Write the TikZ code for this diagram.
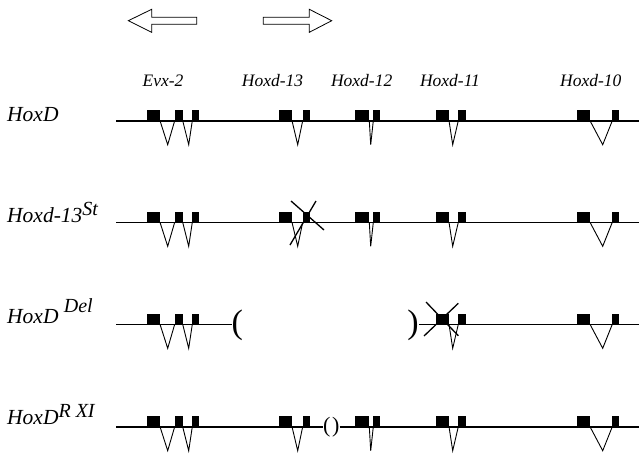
\documentclass[tikz,border=0pt]{standalone}
\usepackage{fontspec}
\setmainfont{Liberation Serif}
\usepackage{tikz}
\usetikzlibrary{positioning}

\tikzset{
    chrom/.style={line width=1.6pt},
    intron/.style={line width=0.9pt},
    exon/.style={fill=black},
    cross/.style={line width=1.3pt},
    genelabel/.style={font=\fontsize{17.5}{17.5}\selectfont\itshape,anchor=base,inner sep=0pt},
    rowlabel/.style={font=\fontsize{21.5}{21.5}\selectfont\itshape,anchor=base west,inner sep=0pt},
    brk/.style={inner sep=0pt},
    bigarrow/.style={draw,line width=0.8pt,fill=white},
}
\newcommand{\exonpair}[5]{%
    \fill[exon] (#1,-10.5) rectangle (#2,0.7);
    \fill[exon] (#4,-10.5) rectangle (#5,0.7);
    \draw[intron] (#2,0) -- (#3,24) -- (#4,0);
}
\newcommand{\geneEvx}{\exonpair{146.7}{160}{167.7}{174.7}{182.7}\exonpair{174.7}{182.7}{188.7}{192.3}{199}}
\newcommand{\geneXiii}{\exonpair{279.3}{292}{297.7}{302.7}{310}}
\newcommand{\geneXii}{\exonpair{355}{369.3}{370.7}{373.3}{380}}
\newcommand{\geneXi}{\exonpair{435.7}{449}{452.7}{458.3}{465.7}}
\newcommand{\geneX}{\exonpair{576.7}{590}{602.7}{612.3}{619.3}}
\newcommand{\hsup}[2]{\raisebox{#1}{\fontsize{20}{20}\selectfont #2}}

\begin{document}
\begin{tikzpicture}[x=1pt,y=-1pt]
    \useasboundingbox (0,0) rectangle (639,455);

    \draw[bigarrow] (128.3,20.7) -- (151.7,9.3) -- (151.7,17.3) -- (196.7,17.3)
        -- (196.7,24.3) -- (151.7,24.3) -- (151.7,32.3) -- cycle;
    \draw[bigarrow] (331.7,20.7) -- (309.3,9.3) -- (309.3,17.3) -- (263.3,17.3)
        -- (263.3,24.3) -- (309.3,24.3) -- (309.3,32.3) -- cycle;

    \path
        (163,86.5)   node[genelabel] (evx) {Evx-2}
        (272.5,86.5) node[genelabel] (d13) {Hoxd-13}
        (361.7,86.5) node[genelabel] (d12) {Hoxd-12}
        (450,86.5)   node[genelabel] (d11) {Hoxd-11}
        (590.8,86.5) node[genelabel] (d10) {Hoxd-10}
        ;

    \begin{scope}[shift={(0,120.7)}]
        \node[rowlabel] (wt) at (7,0.8) {HoxD};
        \draw[chrom] (116,0) -- (639,0);
        \geneEvx \geneXiii \geneXii \geneXi \geneX
    \end{scope}

    \begin{scope}[shift={(0,222.3)}]
        \node[rowlabel] (st) at (7,0) {Hoxd-13\hsup{7pt}{St}};
        \draw[chrom] (116,0) -- (639,0);
        \geneEvx \geneXiii \geneXii \geneXi \geneX
        \draw[cross] (291,-21.3) -- (324,7.7);
        \draw[cross] (316,-21.3) -- (290,22.7);
    \end{scope}

    \begin{scope}[shift={(0,324.3)}]
        \node[rowlabel] (del) at (7,-1) {HoxD\ \hsup{11pt}{Del}};
        \coordinate (delstart) at (116,0);
        \coordinate (delend) at (639,0);
        \node[brk,anchor=west,font=\fontsize{34}{34}\selectfont] (delL) at (231.5,1.5) {(};
        \node[brk,anchor=east,font=\fontsize{34}{34}\selectfont] (delR) at (419,1.5) {)};
        \draw[chrom] (delstart) -- (delstart -| delL.west);
        \draw[chrom] (delend -| delR.east) -- (delend);
        \geneEvx \geneXi \geneX
        \draw[cross] (426,-22.3) -- (458.3,11.4);
        \draw[cross] (458.3,-21) -- (424,11.7);
    \end{scope}

    \begin{scope}[shift={(0,426.7)}]
        \node[rowlabel] (rxi) at (7,-2) {HoxD\hsup{7pt}{R XI}};
        \coordinate (rxistart) at (116,0);
        \coordinate (rxiend) at (639,0);
        \node[brk,font=\fontsize{22}{22}\selectfont] (inv) at (331.3,1) {(\kern1.5pt)};
        \draw[chrom] (rxistart) -- (rxistart -| inv.west);
        \draw[chrom] (inv.east |- rxiend) -- (rxiend);
        \geneEvx \geneXiii \geneXii \geneXi \geneX
    \end{scope}
\end{tikzpicture}
\end{document}
